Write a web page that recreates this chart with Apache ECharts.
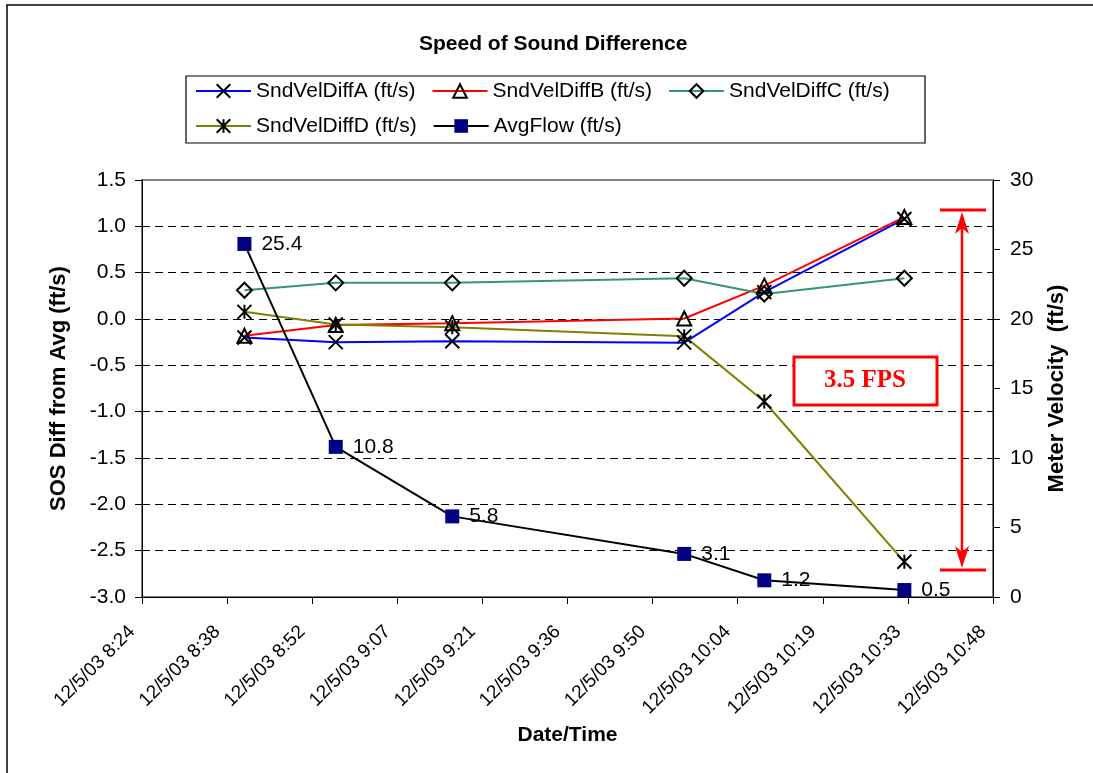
<!DOCTYPE html>
<html>
<head>
<meta charset="utf-8">
<script src="https://cdn.jsdelivr.net/npm/echarts@6/dist/echarts.min.js"></script>
<style>
html,body{margin:0;padding:0;background:#fff;}
#chart{width:1093px;height:773px;}
</style>
</head>
<body>
<div id="chart"></div>
<script>
// ---- data ----
var times = ['08:41:20', '08:56:47', '09:16:30', '09:55:45', '10:09:18', '10:33:00'];
var sndVelDiffA = [-0.20, -0.25, -0.24, -0.255, 0.29, 1.08];
var sndVelDiffB = [-0.18, -0.065, -0.045, 0.005, 0.36, 1.10];
var sndVelDiffC = [0.31, 0.39, 0.39, 0.44, 0.27, 0.44];
var sndVelDiffD = [0.077, -0.06, -0.09, -0.185, -0.89, -2.62];
var avgFlow = [25.4, 10.8, 5.8, 3.1, 1.2, 0.5];
var xTickLabels = ['12/5/03 8:24', '12/5/03 8:38', '12/5/03 8:52', '12/5/03 9:07', '12/5/03 9:21',
  '12/5/03 9:36', '12/5/03 9:50', '12/5/03 10:04', '12/5/03 10:19', '12/5/03 10:33', '12/5/03 10:48'];
var seriesNames = ['SndVelDiffA (ft/s)', 'SndVelDiffB (ft/s)', 'SndVelDiffC (ft/s)', 'SndVelDiffD (ft/s)', 'AvgFlow (ft/s)'];

function toMin(t) {
  var p = t.split(':');
  return (+p[0]) * 60 + (+p[1]) + (+p[2]) / 60;
}
function pairs(vals) {
  return vals.map(function (v, i) { return [toMin(times[i]), v]; });
}

var FONT = "'Liberation Sans', Arial, sans-serif";
var X_MIN = 504, X_MAX = 648, X_INT = 14.4;

var symX = 'path://M0,0L10,10M10,0L0,10';
var symStar = 'path://M0,0L10,10M10,0L0,10M5,0L5,10';

function diffSeries(name, vals, color, symbol, size) {
  return {
    name: name, type: 'line', xAxisIndex: 0, yAxisIndex: 0,
    data: pairs(vals),
    symbol: symbol, symbolSize: size, showAllSymbol: true,
    lineStyle: { color: color, width: 2 },
    itemStyle: { color: 'none', borderColor: '#000', borderWidth: 2 },
    emphasis: { disabled: true }
  };
}

var chart = echarts.init(document.getElementById('chart'), null, { renderer: 'canvas' });
var legendCommon = {
  orient: 'horizontal', itemWidth: 55, itemHeight: 17, itemGap: 16,
  textStyle: { fontFamily: FONT, fontSize: 21, color: '#000', lineHeight: 24 },
  padding: 0, selectedMode: false
};
chart.setOption({
  animation: false,
  backgroundColor: '#fff',
  title: {
    text: 'Speed of Sound Difference', left: 414, top: 29,
    textStyle: { fontFamily: FONT, fontSize: 21, fontWeight: 'bold', color: '#000' }
  },
  legend: [
    Object.assign({ left: 195, top: 79, data: seriesNames.slice(0, 3) }, legendCommon),
    Object.assign({ left: 195, top: 114, data: seriesNames.slice(3) }, legendCommon)
  ],
  grid: { left: 142, right: 100, top: 180, bottom: 176, show: true, borderColor: '#808080', borderWidth: 2, containLabel: false },
  xAxis: {
    type: 'value', min: X_MIN, max: X_MAX, interval: X_INT,
    name: 'Date/Time', nameLocation: 'middle', nameGap: 125,
    nameTextStyle: { fontFamily: FONT, fontSize: 21, fontWeight: 'bold', color: '#000' },
    axisLine: { show: true, onZero: false, lineStyle: { color: '#000', width: 1 } },
    axisTick: { show: true, length: 7, lineStyle: { color: '#000' } },
    splitLine: { show: false },
    axisLabel: {
      rotate: 45, margin: 22, padding: [0, 14, 0, 0], fontFamily: FONT, fontSize: 19, color: '#000', hideOverlap: false,
      showMinLabel: true, showMaxLabel: true,
      formatter: function (v) { return xTickLabels[Math.round((v - X_MIN) / X_INT)]; }
    }
  },
  yAxis: [{
    type: 'value', min: -3, max: 1.5, interval: 0.5, position: 'left',
    name: 'SOS Diff from Avg (ft/s)', nameLocation: 'middle', nameGap: 72, nameRotate: 90,
    nameTextStyle: { fontFamily: FONT, fontSize: 22, fontWeight: 'bold', color: '#000' },
    axisLine: { show: true, onZero: false, lineStyle: { color: '#000', width: 1 } },
    axisTick: { show: true, length: 7, lineStyle: { color: '#000' } },
    splitLine: { show: true, showMinLine: false, showMaxLine: false, lineStyle: { color: '#000', width: 1, type: [8, 5] } },
    axisLabel: { margin: 16, fontFamily: FONT, fontSize: 21, color: '#000', formatter: function (v) { return v.toFixed(1); } }
  }, {
    type: 'value', min: 0, max: 30, interval: 5, position: 'right',
    name: 'Meter Velocity  (ft/s)', nameLocation: 'middle', nameGap: 53, nameRotate: 90,
    nameTextStyle: { fontFamily: FONT, fontSize: 22, fontWeight: 'bold', color: '#000' },
    axisLine: { show: true, onZero: false, lineStyle: { color: '#000', width: 1 } },
    axisTick: { show: true, length: 7, lineStyle: { color: '#000' } },
    splitLine: { show: false },
    axisLabel: { margin: 17, fontFamily: FONT, fontSize: 21, color: '#000' }
  }],
  series: [
    diffSeries(seriesNames[0], sndVelDiffA, '#0000FF', symX, 14),
    diffSeries(seriesNames[1], sndVelDiffB, '#FF0000', 'triangle', 14),
    diffSeries(seriesNames[2], sndVelDiffC, '#339966', 'diamond', 15),
    diffSeries(seriesNames[3], sndVelDiffD, '#808000', symStar, 14),
    {
      name: seriesNames[4], type: 'line', xAxisIndex: 0, yAxisIndex: 1,
      data: pairs(avgFlow),
      symbol: 'rect', symbolSize: 14,
      lineStyle: { color: '#000', width: 2 },
      itemStyle: { color: '#000080', borderColor: '#000080', borderWidth: 0 },
      label: {
        show: true, position: 'right', distance: 10, fontFamily: FONT, fontSize: 21, color: '#000',
        formatter: function (p) { return p.value[1].toFixed(1); }
      },
      emphasis: { disabled: true }
    }
  ],
  graphic: [
    { type: 'rect', silent: true, z: 100, shape: { x: 7, y: 5, width: 1200, height: 900 }, style: { fill: 'none', stroke: '#000', lineWidth: 1.5 } },
    { type: 'rect', silent: true, z: 0, shape: { x: 186, y: 76, width: 739, height: 67 }, style: { fill: 'none', stroke: '#000', lineWidth: 1.2 } },
    // red annotation
    { type: 'line', silent: true, z: 100, shape: { x1: 940, y1: 210, x2: 986, y2: 210 }, style: { stroke: '#FF0000', lineWidth: 3 } },
    { type: 'line', silent: true, z: 100, shape: { x1: 940, y1: 570, x2: 986, y2: 570 }, style: { stroke: '#FF0000', lineWidth: 3 } },
    { type: 'line', silent: true, z: 100, shape: { x1: 962, y1: 222, x2: 962, y2: 558 }, style: { stroke: '#FF0000', lineWidth: 2.5 } },
    { type: 'polygon', silent: true, z: 100, shape: { points: [[962, 212], [955, 234], [962, 228], [969, 234]] }, style: { fill: '#FF0000' } },
    { type: 'polygon', silent: true, z: 100, shape: { points: [[962, 568], [955, 546], [962, 552], [969, 546]] }, style: { fill: '#FF0000' } },
    { type: 'rect', silent: true, z: 100, shape: { x: 794, y: 357, width: 143, height: 48 }, style: { fill: '#fff', stroke: '#FF0000', lineWidth: 3 } },
    { type: 'text', silent: true, z: 101, x: 865, y: 381, style: { text: '3.5 FPS', fill: '#FF0000', font: "bold 25px 'Liberation Serif', 'Times New Roman', serif", align: 'center', verticalAlign: 'middle' } }
  ]
});
</script>
</body>
</html>
